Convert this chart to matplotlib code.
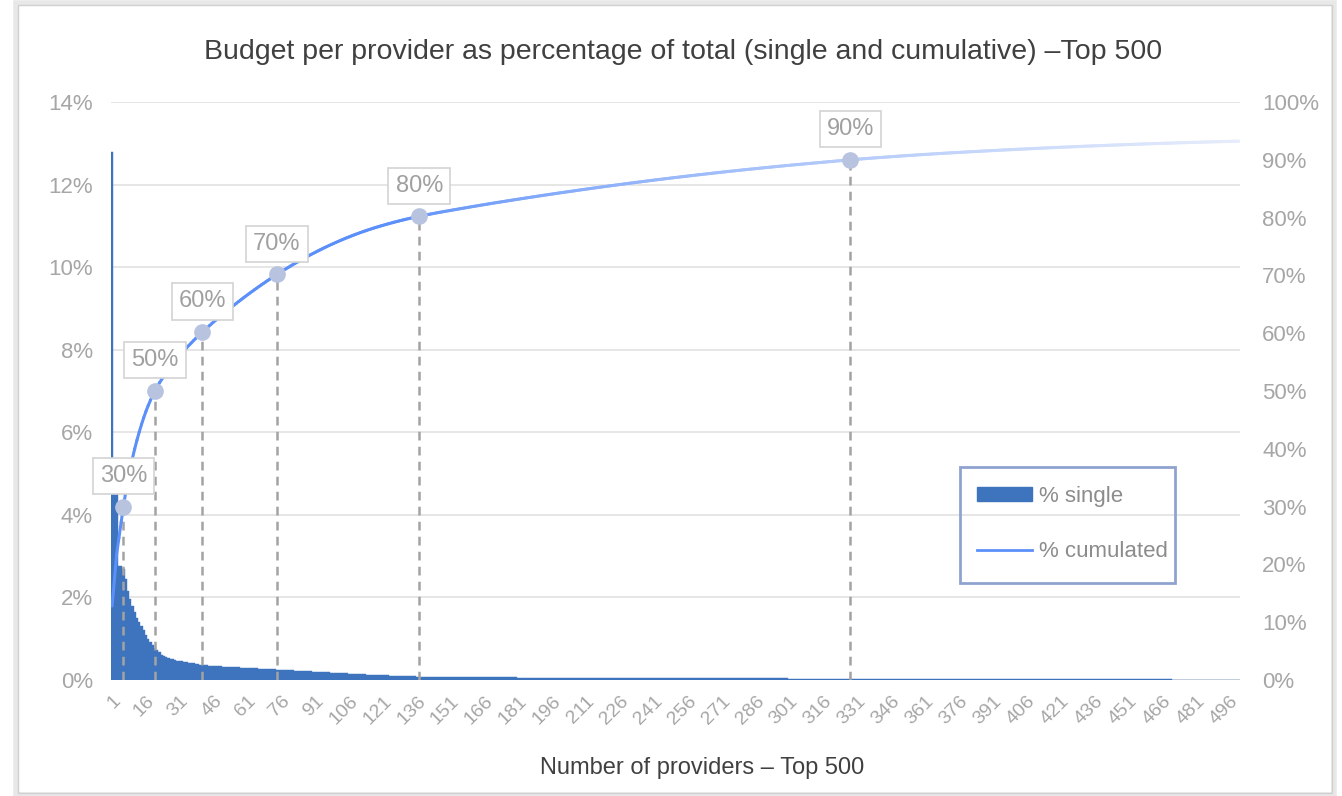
import numpy as np
import matplotlib
matplotlib.use('Agg')
import matplotlib.pyplot as plt
from matplotlib.collections import LineCollection
from matplotlib.colors import to_rgb
from matplotlib.lines import Line2D
from matplotlib.patches import Patch, Rectangle
from matplotlib.ticker import FuncFormatter

plt.rcParams['font.family'] = ['Liberation Sans', 'DejaVu Sans']

# % of total budget per provider, providers 1..150 read one by one
single_top150 = [
    12.8, 4.5, 4.5, 2.75, 2.75, 2.7, 2.45, 2.15, 1.95, 1.8,
    1.65, 1.5, 1.4, 1.3, 1.2, 1.1, 1.0, 0.92, 0.85, 0.78,
    0.72, 0.67, 0.6, 0.58, 0.56, 0.54, 0.52, 0.5, 0.48, 0.47,
    0.46, 0.45, 0.44, 0.43, 0.42, 0.41, 0.4, 0.39, 0.38, 0.37,
    0.36, 0.36, 0.36, 0.35, 0.35, 0.34, 0.34, 0.33, 0.33, 0.325,
    0.322, 0.318, 0.315, 0.312, 0.309, 0.306, 0.303, 0.3, 0.297, 0.294,
    0.291, 0.288, 0.285, 0.282, 0.279, 0.276, 0.273, 0.27, 0.267, 0.264,
    0.261, 0.258, 0.255, 0.252, 0.25, 0.247, 0.244, 0.241, 0.238, 0.235,
    0.232, 0.229, 0.226, 0.223, 0.22, 0.217, 0.214, 0.211, 0.208, 0.205,
    0.202, 0.199, 0.196, 0.193, 0.19, 0.187, 0.184, 0.181, 0.178, 0.175,
    0.172, 0.169, 0.166, 0.163, 0.16, 0.157, 0.154, 0.151, 0.148, 0.145,
    0.142, 0.139, 0.136, 0.133, 0.13, 0.127, 0.124, 0.121, 0.118, 0.116,
    0.114, 0.112, 0.11, 0.108, 0.106, 0.104, 0.102, 0.1, 0.098, 0.096,
    0.094, 0.092, 0.09, 0.088, 0.086, 0.084, 0.082, 0.08, 0.079, 0.078,
    0.077, 0.076, 0.075, 0.074, 0.073, 0.072, 0.071, 0.07, 0.069, 0.068,
]
# providers 151..500, one read value per block of 10 providers
single_blocks_of_10 = [
    0.068, 0.065, 0.062, 0.06, 0.058, 0.056, 0.054, 0.052, 0.05,
    0.048, 0.046, 0.044, 0.042, 0.04, 0.038, 0.036, 0.035, 0.034,
    0.03, 0.028, 0.026, 0.024, 0.022, 0.021, 0.02, 0.019, 0.018,
    0.017, 0.016, 0.015, 0.014, 0.013, 0.012, 0.011, 0.01,
]
# providers where the cumulated share passes each mark
mark_providers = [6, 20, 41, 74, 137, 328]
mark_labels = ['30%', '50%', '60%', '70%', '80%', '90%']
tick_providers = list(range(1, 497, 15))

single = np.concatenate([single_top150, np.repeat(single_blocks_of_10, 10)])
providers = np.arange(1, len(single) + 1)
cumulated = np.cumsum(single)

W, H = 1342, 796
fig = plt.figure(figsize=(W / 100, H / 100), dpi=100)
fig.patch.set_facecolor('white')

# card frame with a soft shadow
fig.patches.append(Rectangle((16 / W, 1 / H), 1318 / W, 792 / H, transform=fig.transFigure,
                             fill=False, edgecolor='#e8e8e8', lw=4, zorder=0))
fig.patches.append(Rectangle((18 / W, 3 / H), 1314 / W, 788 / H, transform=fig.transFigure,
                             fill=False, edgecolor='#d0d0d0', lw=1, zorder=0))

ax = fig.add_axes([111 / W, 1 - 680 / H, 1129 / W, 578 / H])
grey = '#a6a6a6'
bar_blue = '#3d74bd'

ax.bar(providers, single, width=1.0, color=bar_blue, lw=0.3, edgecolor=bar_blue, zorder=2)
ax.set_xlim(0.5, 500.5)
ax.set_ylim(0, 14)
ax.set_yticks(range(0, 15, 2))
ax.yaxis.set_major_formatter(FuncFormatter(lambda v, p: f'{v:.0f}%'))
ax.grid(axis='y', color='#e2e2e2', lw=1.2, zorder=0)
ax.set_axisbelow(True)
for s in ax.spines.values():
    s.set_visible(False)
ax.tick_params(axis='y', length=0, pad=13, labelsize=16, labelcolor=grey)
ax.set_xticks(tick_providers)
ax.set_xticklabels([str(t) for t in tick_providers], rotation=45, ha='right',
                   rotation_mode='anchor', fontsize=14, color=grey)
ax.tick_params(axis='x', length=0, pad=9)

ax2 = ax.twinx()
ax2.set_ylim(0, 100)
ax2.set_yticks(range(0, 101, 10))
ax2.yaxis.set_major_formatter(FuncFormatter(lambda v, p: f'{v:.0f}%'))
for s in ax2.spines.values():
    s.set_visible(False)
ax2.tick_params(axis='y', length=0, pad=16, labelsize=16, labelcolor=grey)

# cumulated line, bright blue on the left and fading to pale blue on the right
pts = np.column_stack([providers, cumulated])
segs = np.stack([pts[:-1], pts[1:]], axis=1)
c0 = np.array(to_rgb('#5b8ff9'))
c1 = np.array(to_rgb('#e6ecfb'))
frac = np.clip((providers[:-1] - 130) / 370, 0, 1) ** 0.7
cols = c0 + (c1 - c0) * frac[:, None]
ax2.add_collection(LineCollection(segs, colors=cols, lw=2.2, capstyle='round', zorder=3))

mark_y = cumulated[np.array(mark_providers) - 1]
ax2.vlines(mark_providers, 0, mark_y, colors='#a3a3a3', lw=1.8, linestyles=(0, (3.5, 2.5)), zorder=2)
ax2.plot(mark_providers, mark_y, 'o', ms=11, color='#b8c3df', zorder=4)
for xp, yp, lab in zip(mark_providers, mark_y, mark_labels):
    ax2.annotate(lab, (xp, yp), xytext=(0, 22), textcoords='offset points',
                 ha='center', va='center', fontsize=17, color='#a0a0a0', zorder=5,
                 bbox=dict(boxstyle='square,pad=0.3', fc='white', ec='#d3d3d3', lw=1.2))

# legend: entries without frame, frame drawn as its own box
handles = [Patch(facecolor=bar_blue, edgecolor=bar_blue),
           Line2D([], [], color='#5b8ff9', lw=2)]
ax2.legend(handles, ['% single', '% cumulated'], loc='upper left',
           bbox_to_anchor=(0.767, 0.336), fontsize=16, labelcolor='#8c8c8c',
           frameon=False, borderpad=0, labelspacing=1.55,
           handlelength=2.5, handleheight=0.6, handletextpad=0.3, borderaxespad=0)
ax2.add_patch(Rectangle((0.752, 0.168), 0.1904, 0.2007, transform=ax2.transAxes,
                        fill=False, edgecolor='#8fa3cf', lw=2, zorder=6))

fig.text(683 / W, 1 - 52 / H,
         'Budget per provider as percentage of total (single and cumulative) \u2013Top 500',
         ha='center', va='center', fontsize=20.5, color='#404040')
fig.text(702 / W, 1 - 768 / H, 'Number of providers \u2013 Top 500',
         ha='center', va='center', fontsize=17, color='#404040')

fig.savefig('out.png', dpi=100)
